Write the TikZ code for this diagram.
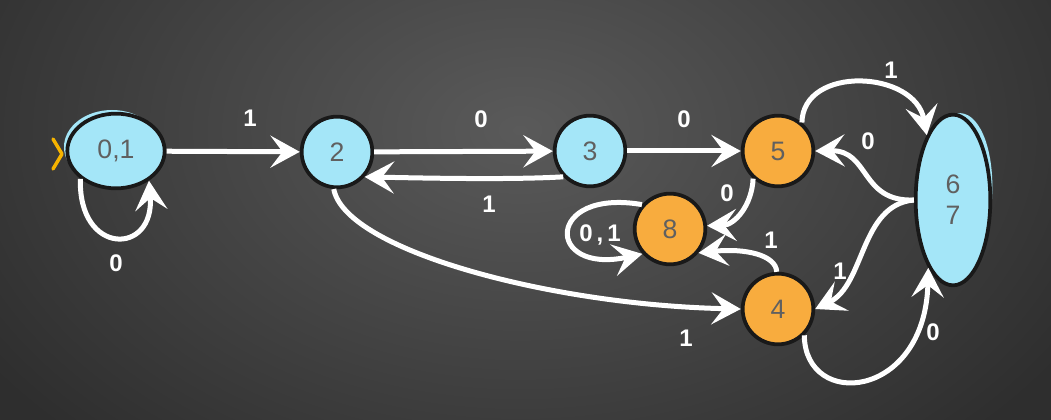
\documentclass[tikz,border=0pt]{standalone}
\usepackage{fontspec}
\setmainfont{Liberation Sans}
\usetikzlibrary{shapes.geometric,arrows.meta}

\definecolor{stateblue}{HTML}{A4E6F8}
\definecolor{stateorange}{HTML}{F8AC3E}
\definecolor{statetext}{HTML}{606060}
\definecolor{boardin}{HTML}{5A5A5A}
\definecolor{boardout}{HTML}{2E2E2E}
\definecolor{startmark}{HTML}{F6B400}

\tikzset{
  state/.style={draw=black!90, line width=2.8pt, inner sep=0pt, text=statetext,
    font=\fontsize{20}{23}\selectfont},
  bluestate/.style={state, circle, minimum size=53pt, fill=stateblue},
  orangestate/.style={state, circle, minimum size=53pt, fill=stateorange},
  blueoval/.style={state, ellipse, fill=stateblue},
  trans/.style={draw=white, line width=3.75pt,
    -{Stealth[length=22pt,width=24pt,inset=9pt]}},
  lbl/.style={text=white, inner sep=0pt, font=\bfseries\fontsize{18}{20}\selectfont}
}

\begin{document}
\begin{tikzpicture}[x=0.75pt,y=0.75pt,yscale=-1,xscale=1]
\useasboundingbox (0,0) rectangle (1051,420);
% Board
\fill[boardout] (0,0) rectangle (1051,420);
\shade[inner color=boardin, outer color=boardout] (-120,-300) rectangle (1160,560);

% Ghost fills
\fill[stateblue] (112,147) ellipse (48 and 37);
\fill[stateblue, rotate around={4:(955,198)}] (955,198) ellipse (37 and 85);

% States
\node[blueoval, minimum width=73pt, minimum height=56pt] (q01) at (116,151) {0,1};
\node[bluestate] (q2) at (337,152) {2};
\node[bluestate] (q3) at (590,151) {3};
\node[orangestate] (q5) at (778,151) {5};
\node[orangestate] (q8) at (670,229) {8};
\node[orangestate] (q4) at (778,309) {4};
\node[blueoval, minimum width=56pt, minimum height=128pt, align=center] (q67) at (953,200) {6\\7};

% Start mark
\draw[startmark, line width=2.6pt, line cap=round, line join=round] (53,139) -- (62,154) -- (53,169);

% Transitions
\draw[trans] (q01) -- (q2);
\draw[trans] (q01.218) .. controls (78,256) and (155,256) .. (q01.318);
\draw[trans] (q2) -- (q3);
\draw[trans] (q3.224) .. controls (510,180) and (420,178) .. (q2.-42);
\draw[trans] (q3) -- (q5);
\draw[trans] (q5.228) .. controls (752,205) and (735,225) .. (q8.5);
\draw[trans] (q4.92) .. controls (776,255) and (745,248) .. (q8.-40);
\draw[trans] (q8.139) .. controls (545,188) and (545,275) .. (q8.222);
\draw[trans] (q2.-95) .. controls (345,250) and (550,305) .. (q4.west);
\draw[trans] (q5.50) .. controls (803,65) and (915,70) .. (q67.112);
\draw[trans] (q67.west) .. controls (860,202) and (870,150) .. (q5.east);
\draw[trans] (q67.west) .. controls (860,205) and (865,285) .. (q4.east);
\draw[trans] (q4.-45) .. controls (805,410) and (925,400) .. (q67.250);

% Labels
\node[lbl] (l1) at (250,118) {1};
\node[lbl] (l2) at (116,263) {0};
\node[lbl] (l3) at (481,119) {0};
\node[lbl] (l4) at (489,204) {1};
\node[lbl] (l5) at (684,119) {0};
\node[lbl] (l6) at (727,193) {0};
\node[lbl] (l7) at (771,240) {1};
\node[lbl] (l8) at (600,235) {0\,,\,1};
\node[lbl] (l9) at (686,338) {1};
\node[lbl] (l10) at (891,70) {1};
\node[lbl] (l11) at (868,141) {0};
\node[lbl] (l12) at (840,271) {1};
\node[lbl] (l13) at (933,332) {0};

\end{tikzpicture}
\end{document}
